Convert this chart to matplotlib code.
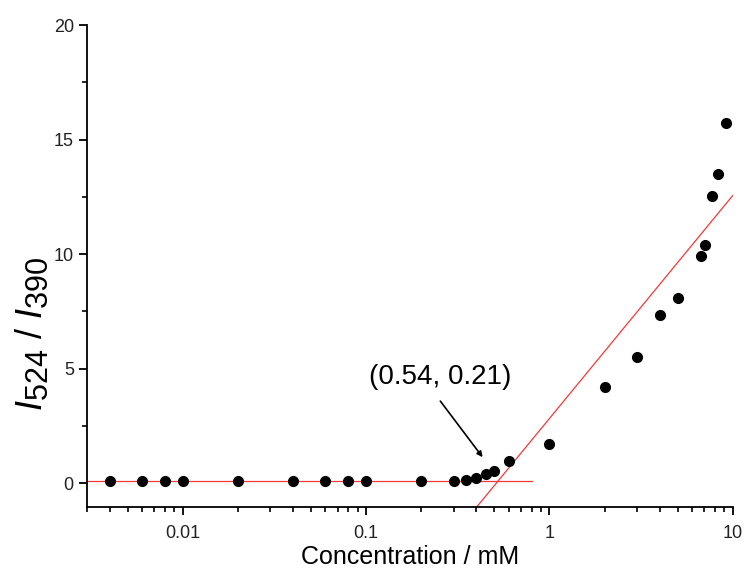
import numpy as np
import matplotlib
matplotlib.use("Agg")
import matplotlib.pyplot as plt
from matplotlib.ticker import LogLocator, MultipleLocator, FixedLocator, FixedFormatter, NullFormatter

# bigger subscripts, like the original figure
try:
    import matplotlib._mathtext as _mt
    _mt.SHRINK_FACTOR = 0.85
except Exception:
    pass

plt.rcParams['font.family'] = ['Liberation Sans', 'DejaVu Sans']
plt.rcParams['mathtext.fontset'] = 'custom'
plt.rcParams['mathtext.it'] = 'Liberation Sans:italic'
plt.rcParams['mathtext.rm'] = 'Liberation Sans'

# data
conc = [0.004, 0.006, 0.008, 0.01, 0.02, 0.04, 0.06, 0.08, 0.1, 0.2,
        0.3, 0.35, 0.4, 0.45, 0.5, 0.6, 1, 2, 3, 4, 5, 6.7, 7.1, 7.7, 8.3, 9.2]
ratio = [0.1, 0.1, 0.1, 0.1, 0.1, 0.1, 0.1, 0.1, 0.1, 0.1,
         0.1, 0.13, 0.2, 0.38, 0.52, 0.97, 1.7, 4.19, 5.52, 7.32, 8.07, 9.91, 10.41, 12.56, 13.51, 15.71]

# fitted lines
base_level = 0.1
base_range = [0.003, 0.8]
fit_slope = 9.74      # per decade
fit_intercept = 2.82  # value at 1 mM
fit_range = [0.4, 10]

xticks = [0.01, 0.1, 1, 10]
xticklabels = ['0.01', '0.1', '1', '10']

fig = plt.figure(figsize=(7.45, 5.73), dpi=100)
ax = fig.add_axes([0.1168, 0.115, 0.8667, 0.841])

red = '#f03a3a'
ax.plot(base_range, [base_level, base_level], color=red, lw=0.9, zorder=2)
fx = np.array(fit_range)
ax.plot(fx, fit_intercept + fit_slope * np.log10(fx), color=red, lw=0.9, zorder=2)

ax.plot(conc, ratio, 'o', color='black', markersize=7, zorder=3)

ax.set_xscale('log')
ax.set_xlim(0.003, 10)
ax.set_ylim(-1.05, 20)

ax.xaxis.set_major_locator(FixedLocator(xticks))
ax.xaxis.set_major_formatter(FixedFormatter(xticklabels))
ax.xaxis.set_minor_locator(LogLocator(base=10, subs=np.arange(2, 10)))
ax.xaxis.set_minor_formatter(NullFormatter())
ax.yaxis.set_major_locator(MultipleLocator(5))
ax.yaxis.set_minor_locator(MultipleLocator(2.5))

for s in ['top', 'right']:
    ax.spines[s].set_visible(False)
for s in ['left', 'bottom']:
    ax.spines[s].set_linewidth(1.3)

ax.tick_params(which='major', direction='out', length=6, width=1.3, labelsize=13, colors='black')
ax.tick_params(which='minor', direction='out', length=3.5, width=1.2)
ax.tick_params(axis='x', pad=7)
ax.tick_params(axis='both', labelcolor='#222222')

ax.set_xlabel('Concentration / mM', fontsize=18, labelpad=2)
ax.set_ylabel(r'$I_{524}$ / $I_{390}$', fontsize=26)
ax.yaxis.set_label_coords(-0.058, 0.36)

# annotation of the intersection point
ax.text(0.255, 4.65, '(0.54, 0.21)', fontsize=20, ha='center', va='center')
ax.annotate('', xy=(0.432, 1.13), xytext=(0.254, 3.58),
            arrowprops=dict(arrowstyle='-|>', color='black', lw=1.2,
                            mutation_scale=8, shrinkA=0, shrinkB=0))

fig.savefig('out.png', dpi=100)
